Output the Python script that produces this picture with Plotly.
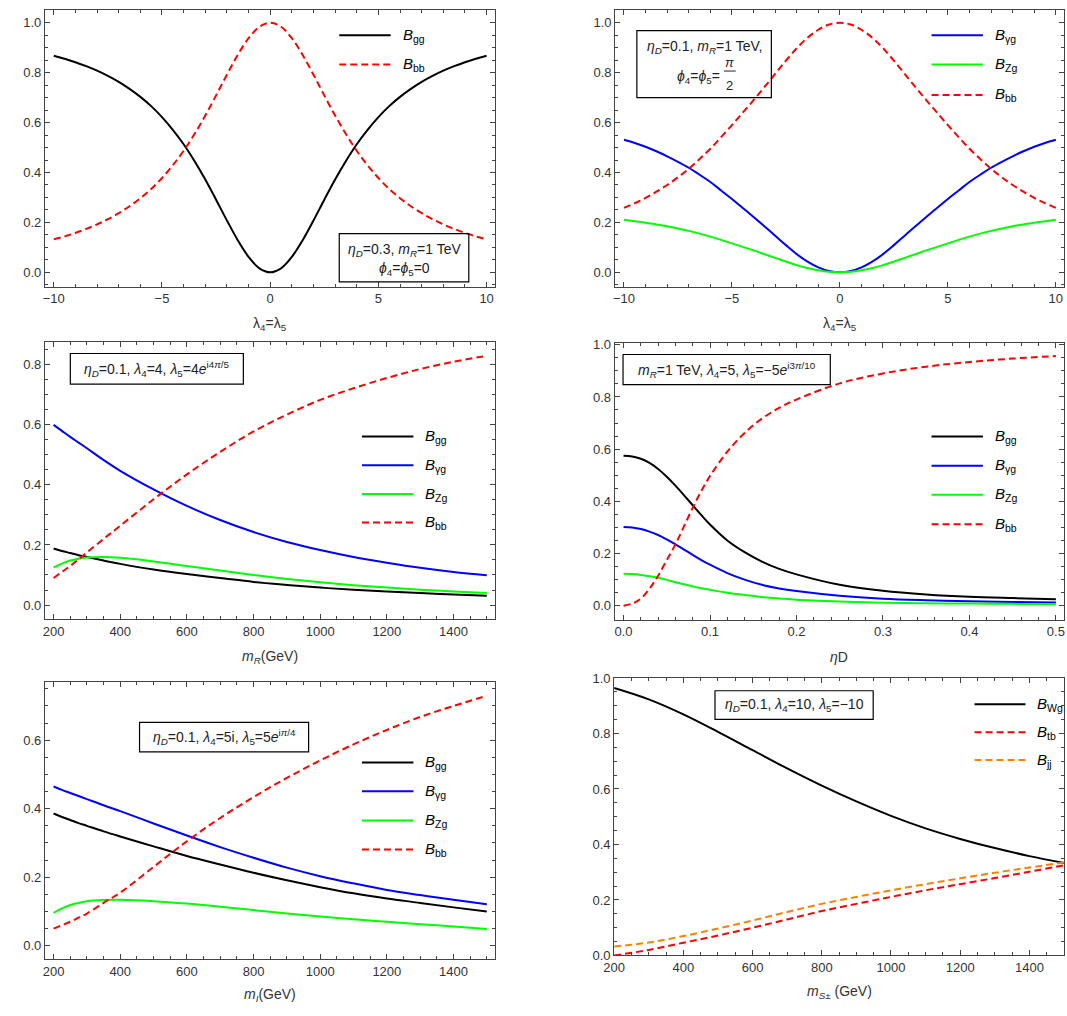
import plotly.graph_objects as go

W, H = 1067, 1016

# ---------------- data ----------------
lam = [-10, -9.5, -9, -8.5, -8, -7.5, -7, -6.5, -6, -5.5, -5, -4.5, -4, -3.5, -3, -2.5, -2, -1.5, -1, -0.5,
       0, 0.5, 1, 1.5, 2, 2.5, 3, 3.5, 4, 4.5, 5, 5.5, 6, 6.5, 7, 7.5, 8, 8.5, 9, 9.5, 10]

# panel 1: eta_D=0.3, m_R=1 TeV, phi4=phi5=0
p1_gg = [0.868, 0.856, 0.842, 0.826, 0.808, 0.787, 0.763, 0.735, 0.703, 0.666, 0.622, 0.571, 0.513, 0.446,
         0.372, 0.291, 0.208, 0.129, 0.062, 0.016, 0.0, 0.016, 0.062, 0.129, 0.208, 0.291, 0.372, 0.446,
         0.513, 0.571, 0.622, 0.666, 0.703, 0.735, 0.763, 0.787, 0.808, 0.826, 0.842, 0.856, 0.868]
p1_bb = [0.132, 0.144, 0.158, 0.174, 0.192, 0.213, 0.237, 0.265, 0.297, 0.334, 0.378, 0.429, 0.487, 0.554,
         0.628, 0.709, 0.792, 0.871, 0.938, 0.984, 1.0, 0.984, 0.938, 0.871, 0.792, 0.709, 0.628, 0.554,
         0.487, 0.429, 0.378, 0.334, 0.297, 0.265, 0.237, 0.213, 0.192, 0.174, 0.158, 0.144, 0.132]

# panel 2: eta_D=0.1, m_R=1 TeV, phi4=phi5=pi/2
p2_yg = [0.531, 0.518, 0.503, 0.485, 0.465, 0.443, 0.419, 0.391, 0.362, 0.328, 0.294, 0.258, 0.222, 0.185,
         0.147, 0.109, 0.073, 0.043, 0.020, 0.005, 0.0, 0.005, 0.020, 0.043, 0.073, 0.109, 0.147, 0.185,
         0.222, 0.258, 0.294, 0.328, 0.362, 0.391, 0.419, 0.443, 0.465, 0.485, 0.503, 0.518, 0.531]
p2_zg = [0.211, 0.205, 0.199, 0.192, 0.185, 0.176, 0.166, 0.155, 0.143, 0.130, 0.116, 0.102, 0.088, 0.073,
         0.058, 0.043, 0.029, 0.017, 0.008, 0.002, 0.0, 0.002, 0.008, 0.017, 0.029, 0.043, 0.058, 0.073,
         0.088, 0.102, 0.116, 0.130, 0.143, 0.155, 0.166, 0.176, 0.185, 0.192, 0.199, 0.205, 0.211]
p2_bb = [0.258, 0.277, 0.298, 0.323, 0.350, 0.381, 0.415, 0.454, 0.495, 0.542, 0.590, 0.640, 0.690, 0.742,
         0.795, 0.848, 0.898, 0.940, 0.972, 0.993, 1.0, 0.993, 0.972, 0.940, 0.898, 0.848, 0.795, 0.742,
         0.690, 0.640, 0.590, 0.542, 0.495, 0.454, 0.415, 0.381, 0.350, 0.323, 0.298, 0.277, 0.258]

# panel 3: m_R scan
mR = [200, 225, 250, 275, 300, 350, 400, 500, 600, 700, 800, 900, 1000, 1100, 1200, 1300, 1400, 1500]
p3_gg = [0.188, 0.180, 0.173, 0.166, 0.160, 0.148, 0.137, 0.118, 0.103, 0.090, 0.077, 0.067, 0.058, 0.051,
         0.045, 0.040, 0.035, 0.031]
p3_yg = [0.600, 0.580, 0.560, 0.541, 0.522, 0.483, 0.447, 0.385, 0.330, 0.283, 0.243, 0.210, 0.183, 0.160,
         0.141, 0.124, 0.110, 0.099]
p3_zg = [0.125, 0.138, 0.148, 0.154, 0.158, 0.160, 0.157, 0.145, 0.130, 0.115, 0.100, 0.087, 0.076, 0.066,
         0.058, 0.051, 0.045, 0.040]
p3_bb = [0.090, 0.110, 0.130, 0.152, 0.175, 0.220, 0.264, 0.352, 0.435, 0.510, 0.578, 0.634, 0.683, 0.722,
         0.756, 0.786, 0.810, 0.830]

# panel 4: eta_D scan
etaD = [0, 0.01, 0.02, 0.03, 0.04, 0.05, 0.06, 0.07, 0.08, 0.09, 0.1, 0.12, 0.14, 0.16, 0.18, 0.2,
        0.25, 0.3, 0.35, 0.4, 0.45, 0.5]
p4_gg = [0.575, 0.572, 0.563, 0.547, 0.524, 0.494, 0.460, 0.423, 0.385, 0.347, 0.311, 0.250, 0.205, 0.169,
         0.141, 0.120, 0.080, 0.057, 0.043, 0.034, 0.029, 0.025]
p4_yg = [0.302, 0.300, 0.294, 0.284, 0.271, 0.254, 0.235, 0.215, 0.195, 0.175, 0.157, 0.125, 0.100, 0.080,
         0.066, 0.056, 0.038, 0.027, 0.021, 0.017, 0.014, 0.012]
p4_zg = [0.122, 0.121, 0.118, 0.113, 0.107, 0.099, 0.090, 0.082, 0.074, 0.067, 0.061, 0.050, 0.041, 0.033,
         0.028, 0.023, 0.016, 0.011, 0.009, 0.008, 0.007, 0.006]
p4_bb = [0.0, 0.008, 0.027, 0.065, 0.115, 0.175, 0.235, 0.305, 0.375, 0.440, 0.497, 0.590, 0.662, 0.717,
         0.758, 0.790, 0.852, 0.890, 0.916, 0.934, 0.947, 0.957]

# panel 5: m_I scan
mI = [200, 225, 250, 275, 300, 350, 400, 500, 600, 700, 800, 900, 1000, 1100, 1200, 1300, 1400, 1500]
p5_gg = [0.386, 0.376, 0.367, 0.358, 0.350, 0.334, 0.319, 0.290, 0.262, 0.237, 0.213, 0.191, 0.171, 0.153,
         0.138, 0.125, 0.112, 0.100]
p5_yg = [0.465, 0.455, 0.446, 0.437, 0.428, 0.410, 0.393, 0.357, 0.322, 0.288, 0.257, 0.228, 0.203, 0.182,
         0.163, 0.148, 0.134, 0.121]
p5_zg = [0.096, 0.109, 0.119, 0.125, 0.130, 0.1335, 0.134, 0.130, 0.123, 0.114, 0.104, 0.094, 0.085, 0.077,
         0.070, 0.063, 0.056, 0.049]
p5_bb = [0.050, 0.060, 0.070, 0.082, 0.094, 0.125, 0.155, 0.230, 0.305, 0.373, 0.434, 0.490, 0.541, 0.588,
         0.630, 0.668, 0.700, 0.730]

# panel 6: m_S+- scan
mS = [200, 300, 400, 500, 600, 700, 800, 900, 1000, 1100, 1200, 1300, 1400, 1500]
p6_wg = [0.964, 0.923, 0.869, 0.806, 0.740, 0.674, 0.612, 0.555, 0.503, 0.458, 0.420, 0.387, 0.358, 0.333]
p6_tb = [0.0, 0.020, 0.046, 0.072, 0.100, 0.130, 0.160, 0.186, 0.211, 0.235, 0.257, 0.279, 0.302, 0.325]
p6_jj = [0.032, 0.047, 0.070, 0.097, 0.126, 0.157, 0.186, 0.211, 0.235, 0.257, 0.278, 0.298, 0.317, 0.335]

# ---------------- styling ----------------
BLACK, BLUE, GREEN, RED, ORANGE = "#000000", "#0000ff", "#00ff00", "#ff0000", "#ff8000"
DASH = "7px,4px"
FONT = "Liberation Sans, Arial, sans-serif"
FRAME = "#444444"
LW = 2

def px(x):
    return x / W

def py(y):
    return 1 - y / H

LBL = {
    "gg": "<i>B</i><sub>gg</sub>",
    "bb": "<i>B</i><sub>bb</sub>",
    "yg": "<i>B</i><sub>γg</sub>",
    "zg": "<i>B</i><sub>Zg</sub>",
    "wg": "<i>B</i><sub>Wg</sub>",
    "tb": "<i>B</i><sub>tb</sub>",
    "jj": "<i>B</i><sub>jj</sub>",
}

panels = [
    dict(frame=(34.3, 490, 2.7, 284), xr=[-10.41, 10.41], yr=[-0.058, 1.0525], xd=5, xm=1, x0=0, xf="d",
         series=[(lam, p1_gg, BLACK, "solid", "gg"), (lam, p1_bb, RED, DASH, "bb")],
         leg=dict(x0=332, x1=384, tx=394, ys=[28.7, 58.3]),
         xt=("λ<sub>4</sub>=λ<sub>5</sub>", 322)),
    dict(frame=(611, 1065, 2.7, 284), xr=[-10.41, 10.38], yr=[-0.058, 1.0525], xd=5, xm=1, x0=0, xf="d",
         series=[(lam, p2_yg, BLUE, "solid", "yg"), (lam, p2_zg, GREEN, "solid", "zg"), (lam, p2_bb, RED, DASH, "bb")],
         leg=dict(x0=931, x1=983, tx=993, ys=[28.7, 58.3, 89.3]),
         xt=("λ<sub>4</sub>=λ<sub>5</sub>", 322)),
    dict(frame=(34.3, 490, 340, 621.3), xr=[174, 1526], yr=[-0.047, 0.876], xd=200, xm=50, x0=0, xf="d",
         series=[(mR, p3_gg, BLACK, "solid", "gg"), (mR, p3_yg, BLUE, "solid", "yg"), (mR, p3_zg, GREEN, "solid", "zg"), (mR, p3_bb, RED, DASH, "bb")],
         leg=dict(x0=355, x1=407, tx=417, ys=[436, 465, 494.3, 523.3]),
         xt=("<i>m</i><sub><i>R</i></sub>(GeV)", 660)),
    dict(frame=(610.5, 1065, 340.7, 621.7), xr=[-0.0103, 0.5094], yr=[-0.053, 1.008], xd=0.1, xm=0.02, x0=0, xf=".1f",
         series=[(etaD, p4_gg, BLACK, "solid", "gg"), (etaD, p4_yg, BLUE, "solid", "yg"), (etaD, p4_zg, GREEN, "solid", "zg"), (etaD, p4_bb, RED, DASH, "bb")],
         leg=dict(x0=931, x1=983, tx=993, ys=[436, 465.7, 495, 525]),
         xt=("<i>η</i>D", 660)),
    dict(frame=(34.3, 490, 685.3, 966.7), xr=[174, 1526], yr=[-0.040, 0.7695], xd=200, xm=50, x0=0, xf="d",
         series=[(mI, p5_gg, BLACK, "solid", "gg"), (mI, p5_yg, BLUE, "solid", "yg"), (mI, p5_zg, GREEN, "solid", "zg"), (mI, p5_bb, RED, DASH, "bb")],
         leg=dict(x0=355, x1=407, tx=417, ys=[766.7, 796, 825.7, 855]),
         xt=("<i>m</i><sub><i>I</i></sub>(GeV)", 1003)),
    dict(frame=(610, 1065, 681, 962.7), xr=[200, 1500], yr=[0, 1.0], xd=200, xm=50, x0=0, xf="d",
         series=[(mS, p6_wg, BLACK, "solid", "wg"), (mS, p6_tb, RED, DASH, "tb"), (mS, p6_jj, ORANGE, DASH, "jj")],
         leg=dict(x0=974.5, x1=1026, tx=1036, ys=[707.7, 736, 764.3]),
         xt=("<i>m</i><sub><i>S</i>±</sub> (GeV)", 1000)),
]

fig = go.Figure()
shapes = []
annotations = []
layout = {}

for i, p in enumerate(panels, start=1):
    sfx = "" if i == 1 else str(i)
    fx0, fx1, fy0, fy1 = p["frame"]
    common = dict(
        showline=True, linecolor=FRAME, linewidth=1, mirror="ticks",
        ticks="inside", ticklen=5, tickwidth=1, tickcolor=FRAME,
        showgrid=False, zeroline=False,
        tickfont=dict(family=FONT, size=13, color="#333333"),
    )
    layout["xaxis" + sfx] = dict(
        common, domain=[px(fx0), px(fx1)], range=p["xr"], anchor="y" + sfx,
        tick0=p["x0"], dtick=p["xd"], tickformat=p["xf"],
        minor=dict(dtick=p["xm"], tick0=p["x0"], ticks="inside", ticklen=3, tickcolor=FRAME, tickwidth=1, showgrid=False),
    )
    layout["yaxis" + sfx] = dict(
        common, domain=[py(fy1), py(fy0)], range=p["yr"], anchor="x" + sfx,
        tick0=0, dtick=0.2, tickformat=".1f",
        minor=dict(dtick=0.05, tick0=0, ticks="inside", ticklen=3, tickcolor=FRAME, tickwidth=1, showgrid=False),
    )
    for xs, ys, col, dash, key in p["series"]:
        fig.add_trace(go.Scatter(
            x=xs, y=ys, mode="lines", line=dict(color=col, width=LW, dash=dash, shape="spline", smoothing=1.0),
            xaxis="x" + sfx, yaxis="y" + sfx, showlegend=False, name=key, hoverinfo="skip",
        ))
    lg = p["leg"]
    for (xs, ys, col, dash, key), ly in zip(p["series"], lg["ys"]):
        shapes.append(dict(type="line", xref="paper", yref="paper", x0=px(lg["x0"]), x1=px(lg["x1"]),
                           y0=py(ly), y1=py(ly), line=dict(color=col, width=LW, dash=dash)))
        annotations.append(dict(xref="paper", yref="paper", x=px(lg["tx"]), y=py(ly), xanchor="left", yanchor="middle",
                                text=LBL[key], showarrow=False, font=dict(family=FONT, size=15, color="#000000")))
    # x-axis title
    annotations.append(dict(xref="paper", yref="paper", x=px((fx0 + fx1) / 2), y=py(p["xt"][1]), xanchor="center",
                            yanchor="middle", text=p["xt"][0], showarrow=False,
                            font=dict(family=FONT, size=14, color="#333333")))

# ---- parameter boxes ----
def box(x0, x1, y0, y1):
    shapes.append(dict(type="rect", xref="paper", yref="paper", x0=px(x0), x1=px(x1), y0=py(y1), y1=py(y0),
                       line=dict(color="#000000", width=1.2), fillcolor="rgba(0,0,0,0)", layer="above"))

def txt(x, y, s, anchor="center", size=14):
    annotations.append(dict(xref="paper", yref="paper", x=px(x), y=py(y), xanchor=anchor, yanchor="middle",
                            text=s, showarrow=False, borderpad=0,
                            font=dict(family=FONT, size=size, color="#222222")))

ETA = "<i>η</i><sub><i>D</i></sub>"
MR = "<i>m</i><sub><i>R</i></sub>"
L4 = "<i>λ</i><sub>4</sub>"
L5 = "<i>λ</i><sub>5</sub>"
PHI = "<i>ϕ</i><sub>4</sub>=<i>ϕ</i><sub>5</sub>="

box(332, 463, 230, 279)
txt(397.5, 247, ETA + "=0.3, " + MR + "=1 TeV")
txt(397.5, 266, PHI + "0")

box(633, 769, 24, 92)
txt(701, 41, ETA + "=0.1, " + MR + "=1 TeV,")
txt(718, 71, PHI, anchor="right")
txt(727, 56, "<i>π</i>", size=13)
txt(727, 80, "2", size=13)
shapes.append(dict(type="line", xref="paper", yref="paper", x0=px(721), x1=px(733), y0=py(65), y1=py(65),
                   line=dict(color="#222222", width=1)))

box(60, 235, 351.7, 382.7)
txt(147.5, 367, ETA + "=0.1, " + L4 + "=4, " + L5 + "=4<i>e</i><sup>i4<i>π</i>/5</sup>")

box(619, 828.6, 352.7, 383.3)
txt(723.8, 368, MR + "=1 TeV, " + L4 + "=5, " + L5 + "=−5<i>e</i><sup>i3<i>π</i>/10</sup>")

box(130, 301, 726, 756)
txt(215.5, 741, ETA + "=0.1, " + L4 + "=5i, " + L5 + "=5<i>e</i><sup>i<i>π</i>/4</sup>")

box(712, 872, 694, 723)
txt(792, 708.5, ETA + "=0.1, " + L4 + "=10, " + L5 + "=−10")

layout.update(dict(
    width=W, height=H, margin=dict(l=0, r=0, t=0, b=0), autosize=False,
    paper_bgcolor="white", plot_bgcolor="white", showlegend=False,
    shapes=shapes, annotations=annotations,
    font=dict(family=FONT, color="#333333"),
))
fig.update_layout(**layout)
fig.write_html(
    "out.html",
    config={"displayModeBar": False, "staticPlot": True},
    post_script="document.body.style.margin='0px';document.body.style.overflow='hidden';",
)
